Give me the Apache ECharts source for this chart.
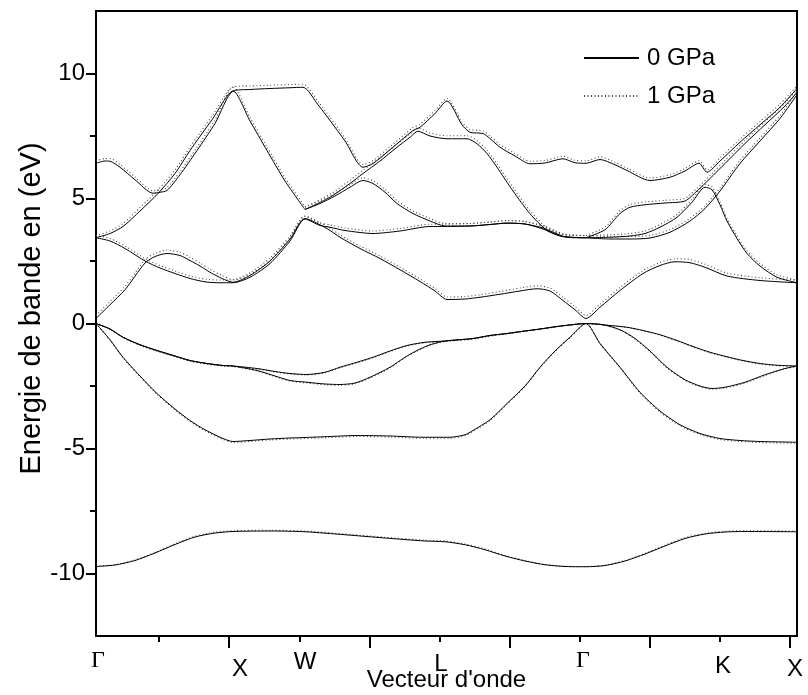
<!DOCTYPE html>
<html>
<head>
<meta charset="utf-8">
<script src="https://cdn.jsdelivr.net/npm/echarts@6/dist/echarts.min.js"></script>
<style>
  html, body { margin: 0; padding: 0; background: #fff; }
  #chart { width: 808px; height: 695px; }
</style>
</head>
<body>
<div id="chart"></div>
<script>
// k-path coordinate (arbitrary units along the path Γ-X-W-L-Γ-K-X)
const kMax = 701;
const kTicksMajor = [133.2, 273.4, 413.6, 553.8, 694];
const kTicksMinor = [63.1, 203.3, 343.5, 483.7, 623.9];
const kLabelPos = [2, 144, 209, 345, 487, 627, 699];
const kLabelText = ['Γ', 'X', 'W', 'L', 'Γ', 'K', 'X'];
const eTicksMajor = [-10, -5, 0, 5, 10];
const eTicksMinor = [-7.5, -2.5, 2.5, 7.5];

// bande ~ -10 eV
const kB1 = [0,19,39,59,79,99,119,137,174,209,249,289,329,349,369,389,409,429,449,469,490,509,529,549,569,589,609,629,649,701];
const eB1_0 = [-9.72,-9.66,-9.48,-9.18,-8.84,-8.54,-8.38,-8.32,-8.3,-8.33,-8.45,-8.58,-8.7,-8.73,-8.85,-9.05,-9.3,-9.5,-9.65,-9.72,-9.73,-9.68,-9.5,-9.22,-8.9,-8.6,-8.42,-8.34,-8.32,-8.33];
const eB1_1 = [-9.71,-9.65,-9.46,-9.16,-8.81,-8.51,-8.35,-8.29,-8.27,-8.3,-8.42,-8.55,-8.67,-8.7,-8.82,-9.02,-9.28,-9.48,-9.64,-9.71,-9.72,-9.67,-9.48,-9.2,-8.87,-8.57,-8.39,-8.31,-8.29,-8.3];

// valence
const kB2 = [0,14,27,44,61,79,94,109,127,137,154,174,194,209,234,261,294,327,354,369,377,394,411,429,444,459,474,490,504,524,544,564,584,604,624,644,664,701];
const eB2_0 = [0,-0.65,-1.35,-2.1,-2.8,-3.42,-3.88,-4.25,-4.6,-4.72,-4.68,-4.62,-4.58,-4.56,-4.52,-4.48,-4.5,-4.55,-4.55,-4.45,-4.28,-3.85,-3.2,-2.5,-1.75,-1.1,-0.55,0,-0.8,-1.75,-2.75,-3.5,-4.05,-4.4,-4.6,-4.68,-4.72,-4.75];
const eB2_1 = [0,-0.66,-1.37,-2.13,-2.83,-3.46,-3.92,-4.29,-4.64,-4.76,-4.72,-4.66,-4.62,-4.6,-4.56,-4.52,-4.54,-4.59,-4.59,-4.49,-4.31,-3.88,-3.23,-2.52,-1.77,-1.11,-0.56,0,-0.81,-1.77,-2.78,-3.54,-4.09,-4.44,-4.64,-4.72,-4.76,-4.79];

const kB3 = [0,14,27,44,61,79,94,111,127,137,161,179,194,211,229,244,259,274,294,309,321,334,349,377,394,411,427,444,461,476,490,507,524,539,554,571,589,604,616,629,649,669,689,701];
const eB3_0 = [0,-0.22,-0.55,-0.85,-1.08,-1.3,-1.48,-1.6,-1.68,-1.7,-1.88,-2.1,-2.28,-2.35,-2.42,-2.44,-2.38,-2.15,-1.75,-1.35,-1.08,-0.85,-0.7,-0.6,-0.48,-0.4,-0.31,-0.22,-0.12,-0.05,0,-0.05,-0.25,-0.6,-1.1,-1.75,-2.25,-2.5,-2.6,-2.55,-2.35,-2.05,-1.8,-1.7];
const eB3_1 = [0,-0.23,-0.56,-0.87,-1.1,-1.32,-1.5,-1.62,-1.7,-1.72,-1.9,-2.12,-2.3,-2.38,-2.45,-2.47,-2.41,-2.18,-1.78,-1.37,-1.1,-0.87,-0.72,-0.62,-0.5,-0.41,-0.32,-0.23,-0.13,-0.05,0,-0.05,-0.26,-0.62,-1.12,-1.78,-2.28,-2.53,-2.63,-2.58,-2.38,-2.08,-1.82,-1.72];

const kB4 = [0,14,27,44,61,79,94,111,127,137,161,179,194,211,229,244,261,277,294,311,329,349,377,394,411,427,444,461,476,490,514,531,547,564,581,597,614,631,647,664,681,701];
const eB4_0 = [0,-0.22,-0.55,-0.85,-1.08,-1.3,-1.48,-1.6,-1.68,-1.7,-1.8,-1.92,-2.0,-2.04,-1.95,-1.75,-1.55,-1.35,-1.1,-0.88,-0.75,-0.7,-0.6,-0.48,-0.4,-0.31,-0.22,-0.12,-0.05,0,-0.08,-0.15,-0.28,-0.45,-0.68,-0.92,-1.15,-1.33,-1.48,-1.6,-1.67,-1.7];
const eB4_1 = [0,-0.23,-0.56,-0.87,-1.1,-1.32,-1.5,-1.62,-1.7,-1.72,-1.82,-1.94,-2.02,-2.06,-1.97,-1.77,-1.57,-1.37,-1.12,-0.9,-0.77,-0.72,-0.62,-0.5,-0.41,-0.32,-0.23,-0.13,-0.05,0,-0.08,-0.16,-0.29,-0.46,-0.7,-0.94,-1.17,-1.35,-1.5,-1.62,-1.69,-1.72];

// conduction
const kC1 = [0,14,29,49,59,71,84,94,104,114,126,137,154,174,194,209,224,234,244,264,284,304,324,339,351,369,384,404,424,441,454,467,479,490,504,524,547,564,579,594,609,631,664,701];
const eC1_0 = [0.2,0.75,1.35,2.42,2.68,2.8,2.72,2.52,2.3,2.05,1.8,1.65,1.92,2.5,3.38,4.2,3.95,3.72,3.45,3.0,2.6,2.15,1.68,1.3,0.96,0.98,1.05,1.17,1.3,1.39,1.3,0.92,0.55,0.2,0.65,1.32,2.0,2.32,2.47,2.43,2.25,1.9,1.72,1.63];
const eC1_1 = [0.32,0.88,1.48,2.55,2.8,2.93,2.85,2.65,2.42,2.17,1.92,1.76,2.03,2.62,3.5,4.3,4.04,3.81,3.55,3.1,2.7,2.25,1.78,1.4,1.06,1.08,1.15,1.28,1.42,1.51,1.42,1.05,0.67,0.32,0.77,1.44,2.12,2.44,2.59,2.56,2.37,2.02,1.83,1.74];

const kC2 = [0,14,29,49,64,79,94,110,124,137,154,174,194,209,224,234,249,277,304,334,349,374,394,411,429,447,459,467,479,490];
const eC2_0 = [3.43,3.3,3.0,2.5,2.22,2.0,1.8,1.66,1.63,1.63,1.85,2.4,3.3,4.18,3.92,3.85,3.72,3.6,3.7,3.88,3.88,3.9,3.96,4.01,3.98,3.78,3.58,3.48,3.43,3.43];
const eC2_1 = [3.52,3.4,3.1,2.6,2.32,2.1,1.9,1.77,1.74,1.74,1.96,2.52,3.42,4.28,4.02,3.95,3.82,3.7,3.8,3.97,3.97,4.0,4.06,4.11,4.08,3.88,3.68,3.57,3.52,3.52];

const kC3 = [209,224,239,254,267,277,289,301,317,334,349,374,394,411,429,447,459,469,490];
const eC3_0 = [4.56,4.8,5.1,5.45,5.72,5.6,5.25,4.8,4.4,4.1,3.9,3.9,3.96,4.02,3.98,3.82,3.62,3.47,3.43];
const eC3_1 = [4.66,4.9,5.21,5.56,5.83,5.71,5.36,4.91,4.5,4.2,4.0,4.0,4.06,4.12,4.08,3.92,3.72,3.56,3.52];

const kC4 = [209,234,254,267,284,301,314,322,334,351,371,381,391,401,417,434,451,464,474,490];
const eC4_0 = [4.56,5.05,5.6,6.0,6.5,7.05,7.45,7.69,7.5,7.39,7.39,7.19,6.8,6.25,5.3,4.39,3.72,3.5,3.45,3.43];
const eC4_1 = [4.66,5.17,5.73,6.13,6.63,7.18,7.58,7.82,7.62,7.51,7.51,7.31,6.93,6.39,5.44,4.51,3.82,3.59,3.53,3.52];

const kC5 = [0,9,14,24,39,57,64,71,84,101,119,137,154,174,194,207,222,234,249,267,277,294,317,324,339,351,366,374,387,394,404,419,434,449,467,479,490,504,519,531,554,574,589,603,611,624,644,664,684,701];
const eC5_0 = [6.41,6.5,6.49,6.25,5.75,5.21,5.25,5.32,5.95,6.92,8.0,9.3,9.36,9.4,9.43,9.45,8.75,8.12,7.3,6.25,6.4,6.95,7.72,7.85,8.4,8.9,7.95,7.65,7.6,7.4,7.05,6.7,6.39,6.42,6.59,6.43,6.41,6.56,6.35,6.12,5.72,5.85,6.1,6.41,6.05,6.5,7.25,7.95,8.65,9.4];
const eC5_1 = [6.5,6.6,6.6,6.36,5.86,5.31,5.35,5.43,6.07,7.05,8.14,9.46,9.5,9.53,9.56,9.57,8.88,8.25,7.42,6.36,6.52,7.07,7.84,7.97,8.52,9.0,8.06,7.76,7.7,7.5,7.16,6.8,6.49,6.52,6.69,6.53,6.51,6.66,6.45,6.22,5.82,5.95,6.2,6.51,6.15,6.62,7.38,8.08,8.78,9.5];

const kC6 = [0,14,27,44,62,79,94,116,137,154,171,189,209];
const eC6_0 = [3.43,3.6,3.88,4.5,5.2,6.0,6.92,8.15,9.3,8.1,6.92,5.7,4.56];
const eC6_1 = [3.52,3.7,4.0,4.64,5.34,6.14,7.06,8.3,9.46,8.24,7.06,5.83,4.66];

const kC7 = [490,509,524,534,549,569,589,601,614,629,649,669,689,701];
const eC7_0 = [3.43,3.75,4.4,4.65,4.75,4.82,4.9,5.3,5.8,6.4,7.2,7.95,8.7,9.25];
const eC7_1 = [3.52,3.86,4.51,4.76,4.86,4.93,5.01,5.41,5.92,6.52,7.32,8.07,8.82,9.36];

const kC8 = [490,514,534,549,564,581,596,609,616,624,631,641,651,664,681,701];
const eC8_0 = [3.43,3.45,3.5,3.6,3.85,4.25,4.85,5.45,5.35,4.75,4.1,3.4,2.8,2.3,1.85,1.63];
const eC8_1 = [3.52,3.55,3.6,3.7,3.96,4.36,4.96,5.56,5.46,4.86,4.2,3.5,2.9,2.4,1.95,1.73];

const kC9 = [490,514,534,554,574,594,609,624,644,664,684,701];
const eC9_0 = [3.43,3.38,3.38,3.42,3.65,4.1,4.6,5.3,6.4,7.3,8.2,9.15];
const eC9_1 = [3.52,3.48,3.48,3.52,3.76,4.21,4.71,5.42,6.52,7.42,8.32,9.27];

const bands = [
    [kB1, eB1_0, eB1_1], [kB2, eB2_0, eB2_1], [kB3, eB3_0, eB3_1], [kB4, eB4_0, eB4_1],
    [kC1, eC1_0, eC1_1], [kC2, eC2_0, eC2_1], [kC3, eC3_0, eC3_1], [kC4, eC4_0, eC4_1],
    [kC5, eC5_0, eC5_1], [kC6, eC6_0, eC6_1], [kC7, eC7_0, eC7_1], [kC8, eC8_0, eC8_1],
    [kC9, eC9_0, eC9_1]
];

const sansFont = "'Liberation Sans', Arial, sans-serif";
const serifFont = "'Liberation Serif', 'Times New Roman', serif";

function zip(k, e) {
    return k.map((x, i) => [x, e[i]]);
}

let series = [];
// 1 GPa (pointillé) en dessous
bands.forEach(b => {
    series.push({
        name: '1 GPa', type: 'line', xAxisIndex: 0, yAxisIndex: 0,
        data: zip(b[0], b[2]), symbol: 'none', smooth: 0.25,
        lineStyle: { color: '#444', width: 1.1, type: [1, 2.5] },
        itemStyle: { color: '#444', opacity: 0 }, z: 2
    });
});
// 0 GPa (trait plein)
bands.forEach(b => {
    series.push({
        name: '0 GPa', type: 'line', xAxisIndex: 0, yAxisIndex: 0,
        data: zip(b[0], b[1]), symbol: 'none', smooth: 0.25,
        lineStyle: { color: '#000', width: 1 },
        itemStyle: { color: '#000', opacity: 0 }, z: 3
    });
});

const gridBox = { left: 96, right: 11, top: 11, bottom: 59 };

let option = {
    animation: false,
    backgroundColor: '#fff',
    textStyle: { fontFamily: sansFont },
    grid: [
        Object.assign({ show: true, borderColor: '#000', borderWidth: 2, outerBoundsMode: 'none', containLabel: false }, gridBox),
        Object.assign({ show: false, outerBoundsMode: 'none', containLabel: false }, gridBox)
    ],
    legend: {
        data: ['0 GPa', '1 GPa'],
        orient: 'vertical',
        left: 578, top: 41,
        itemWidth: 55, itemHeight: 14, itemGap: 14,
        itemStyle: { opacity: 0 },
        textStyle: { fontSize: 24, color: '#000', fontFamily: sansFont, padding: [0, 0, 0, 3] }
    },
    xAxis: [{
        type: 'value', gridIndex: 0, min: 0, max: kMax, position: 'bottom',
        axisLine: { show: true, onZero: false, lineStyle: { color: '#000', width: 2 } },
        axisTick: { show: true, customValues: kTicksMajor, length: 12, lineStyle: { color: '#000', width: 2 } },
        splitLine: { show: false },
        axisLabel: {
            customValues: kLabelPos,
            margin: 12,
            color: '#000',
            formatter: function (value) {
                let i = kLabelPos.indexOf(value);
                if (i < 0) return '';
                let t = kLabelText[i];
                let key = t === 'Γ' ? 'g' : t.toLowerCase();
                return '{' + key + '|' + t + '}';
            },
            rich: {
                g: { fontFamily: serifFont, fontSize: 24, color: '#000', padding: [1, 0, 0, 0] },
                x: { fontFamily: sansFont, fontSize: 24, color: '#000', padding: [9, 0, 0, 0] },
                w: { fontFamily: sansFont, fontSize: 24, color: '#000', padding: [2, 0, 0, 0] },
                l: { fontFamily: sansFont, fontSize: 24, color: '#000', padding: [4, 0, 0, 0] },
                k: { fontFamily: sansFont, fontSize: 24, color: '#000', padding: [6, 0, 0, 0] }
            }
        },
        name: "Vecteur d'onde",
        nameLocation: 'middle',
        nameGap: 32,
        nameMoveOverlap: false,
        nameTextStyle: { fontSize: 24, color: '#000', fontFamily: sansFont }
    }, {
        type: 'value', gridIndex: 1, min: 0, max: kMax, position: 'bottom',
        axisLine: { show: false, onZero: false },
        axisTick: { show: true, customValues: kTicksMinor, length: 6, lineStyle: { color: '#000', width: 2 } },
        axisLabel: { show: false },
        splitLine: { show: false }
    }],
    yAxis: [{
        type: 'value', gridIndex: 0, min: -12.5, max: 12.5, position: 'left',
        axisLine: { show: true, onZero: false, lineStyle: { color: '#000', width: 2 } },
        axisTick: { show: true, customValues: eTicksMajor, length: 10, lineStyle: { color: '#000', width: 2 } },
        splitLine: { show: false },
        axisLabel: { customValues: eTicksMajor, margin: 11, fontSize: 24, color: '#000', fontFamily: sansFont },
        name: 'Energie de bande en (eV)',
        nameLocation: 'middle',
        nameGap: 50,
        nameMoveOverlap: false,
        nameTextStyle: { fontSize: 29, color: '#000', fontFamily: sansFont, padding: [0, 0, 0, 30] }
    }, {
        type: 'value', gridIndex: 1, min: -12.5, max: 12.5, position: 'left',
        axisLine: { show: false, onZero: false },
        axisTick: { show: true, customValues: eTicksMinor, length: 6, lineStyle: { color: '#000', width: 2 } },
        axisLabel: { show: false },
        splitLine: { show: false }
    }],
    series: series
};

let chart = echarts.init(document.getElementById('chart'), null, { renderer: 'canvas' });
chart.setOption(option);
</script>
</body>
</html>
